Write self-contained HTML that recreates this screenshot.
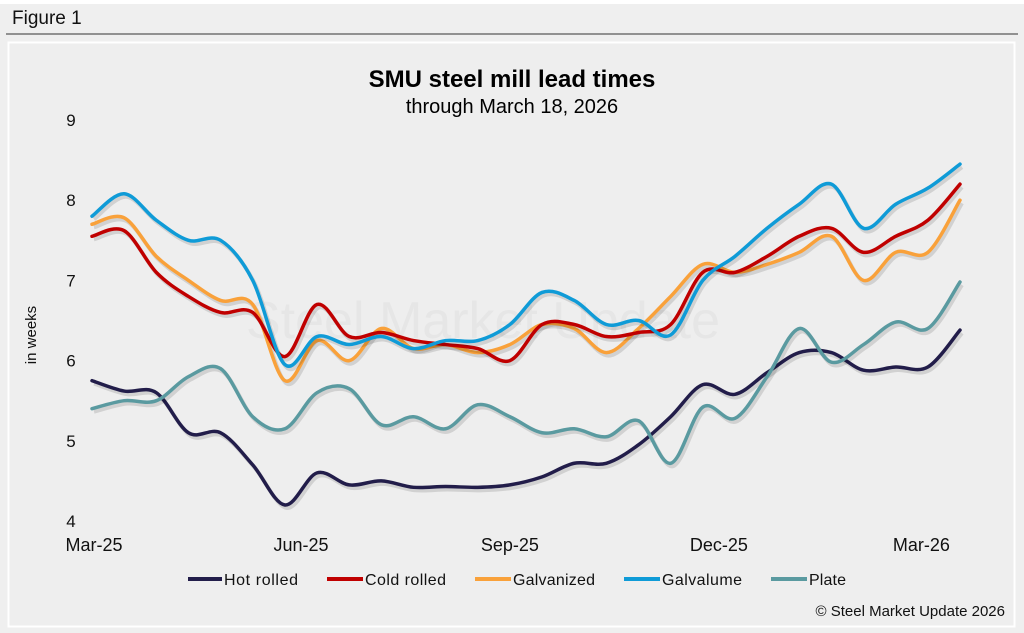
<!DOCTYPE html>
<html><head><meta charset="utf-8"><style>
html,body{margin:0;padding:0;background:#efefef;}
svg{display:block;font-family:"Liberation Sans",sans-serif;}
</style></head><body>
<svg id="chart" width="1024" height="633" viewBox="0 0 1024 633">
<rect x="0" y="0" width="1024" height="633" fill="#efefef"/>
<rect x="0" y="0" width="1024" height="4" fill="#ffffff"/>
<text x="12" y="24" font-size="19" fill="#111">Figure 1</text>
<line x1="6" y1="34" x2="1018" y2="34" stroke="#333" stroke-width="1"/>
<rect x="8.5" y="42.5" width="1006" height="584" fill="#eeeeee" stroke="#ffffff" stroke-width="2"/>
<text x="512" y="87" font-size="24" font-weight="bold" text-anchor="middle" fill="#000">SMU steel mill lead times</text>
<text x="512" y="113" font-size="20" text-anchor="middle" fill="#000">through March 18, 2026</text>
<text x="483" y="338" font-size="52" fill="#e6e6e6" text-anchor="middle">Steel Market Update</text>
<text x="36" y="335" font-size="15" text-anchor="middle" transform="rotate(-90 36 335)" fill="#111">in weeks</text>
<g id="yticks"></g><g id="xticks"></g><g id="series"></g>
<g>
<line x1="188" y1="579" x2="222" y2="579" stroke="#221d4a" stroke-width="4"/>
<text x="224" y="585" font-size="16" textLength="74" fill="#111">Hot rolled</text>
<line x1="327" y1="579" x2="363" y2="579" stroke="#c00000" stroke-width="4"/>
<text x="365" y="585" font-size="16" textLength="81" fill="#111">Cold rolled</text>
<line x1="475" y1="579" x2="511" y2="579" stroke="#f9a13a" stroke-width="4"/>
<text x="513" y="585" font-size="16" textLength="82" fill="#111">Galvanized</text>
<line x1="624" y1="579" x2="660" y2="579" stroke="#0f9bd7" stroke-width="4"/>
<text x="662" y="585" font-size="16" textLength="80" fill="#111">Galvalume</text>
<line x1="771" y1="579" x2="807" y2="579" stroke="#5a9aa0" stroke-width="4"/>
<text x="809" y="585" font-size="16" textLength="37" fill="#111">Plate</text>
</g>
<text x="1005" y="616" font-size="15" text-anchor="end" fill="#111">© Steel Market Update 2026</text>
</svg>
<script>
const yTicks=[4,5,6,7,8,9];
const xLabels=["Mar-25","Jun-25","Sep-25","Dec-25","Mar-26"];
const xLabelIdx=[0,6.5,13,19.5,25.8];
const hotRolled=[5.75,5.62,5.6,5.1,5.1,4.7,4.2,4.6,4.45,4.5,4.42,4.43,4.42,4.45,4.55,4.72,4.72,4.95,5.3,5.7,5.58,5.85,6.1,6.1,5.88,5.92,5.92,6.38];
const coldRolled=[7.55,7.62,7.1,6.8,6.6,6.6,6.05,6.7,6.3,6.35,6.25,6.2,6.15,6.0,6.45,6.45,6.3,6.35,6.45,7.1,7.1,7.3,7.55,7.65,7.35,7.55,7.75,8.2];
const galvanized=[7.7,7.78,7.3,7.0,6.75,6.7,5.75,6.25,6.0,6.4,6.15,6.2,6.1,6.2,6.45,6.4,6.1,6.4,6.8,7.2,7.1,7.2,7.35,7.55,7.0,7.35,7.35,8.0];
const galvalume=[7.8,8.08,7.75,7.5,7.5,7.0,5.95,6.3,6.2,6.3,6.15,6.25,6.25,6.45,6.85,6.75,6.45,6.5,6.32,7.0,7.3,7.65,7.95,8.2,7.65,7.95,8.15,8.45];
const plate=[5.4,5.5,5.5,5.8,5.9,5.3,5.15,5.6,5.65,5.2,5.3,5.15,5.45,5.3,5.1,5.15,5.05,5.25,4.72,5.42,5.28,5.8,6.4,5.98,6.2,6.48,6.4,6.98];
const NS="http://www.w3.org/2000/svg";
const x0=92,x1=960,n=hotRolled.length;
function xs(i){return x0+i*(x1-x0)/(n-1);}
function ys(v){return 521-(v-4)*80.2;}
const yg=document.getElementById('yticks');
yTicks.forEach(t=>{const e=document.createElementNS(NS,'text');


e.setAttribute('x',71);e.setAttribute('y',ys(t)+6);e.setAttribute('font-size','17');e.setAttribute('text-anchor','middle');e.setAttribute('fill','#111');e.textContent=t;yg.appendChild(e);});
const xg=document.getElementById('xticks');
xLabels.forEach((l,k)=>{const e=document.createElementNS(NS,'text');


e.setAttribute('x',xs(xLabelIdx[k])+(k==0?2:0));e.setAttribute('y',551);e.setAttribute('font-size','18');e.setAttribute('text-anchor','middle');e.setAttribute('fill','#111');e.textContent=l;xg.appendChild(e);});
function path(vals){const p=vals.map((v,i)=>[xs(i),ys(v)]);let d='M'+p[0][0]+','+p[0][1];
for(let i=0;i<p.length-1;i++){const a=p[Math.max(0,i-1)],b=p[i],c=p[i+1],e=p[Math.min(p.length-1,i+2)];
const c1=[b[0]+(c[0]-a[0])/6,b[1]+(c[1]-a[1])/6],c2=[c[0]-(e[0]-b[0])/6,c[1]-(e[1]-b[1])/6];
d+=' C'+c1[0]+','+c1[1]+' '+c2[0]+','+c2[1]+' '+c[0]+','+c[1];}return d;}
const sg=document.getElementById('series');
const defs=[[hotRolled,'#221d4a','hot-rolled-line'],[plate,'#5a9aa0','plate-line'],[galvanized,'#f9a13a','galvanized-line'],[coldRolled,'#c00000','cold-rolled-line'],[galvalume,'#0f9bd7','galvalume-line']];
defs.forEach(([v,c,nm])=>{const sh=document.createElementNS(NS,'path');


sh.setAttribute('d',path(v));sh.setAttribute('transform','translate(2,3)');sh.setAttribute('fill','none');sh.setAttribute('stroke','rgba(0,0,0,0.12)');sh.setAttribute('stroke-width','4');sg.appendChild(sh);
const e=document.createElementNS(NS,'path');


e.setAttribute('d',path(v));e.setAttribute('fill','none');e.setAttribute('stroke',c);e.setAttribute('stroke-width','3.5');e.setAttribute('stroke-linecap','round');sg.appendChild(e);});
</script>
</body></html>
